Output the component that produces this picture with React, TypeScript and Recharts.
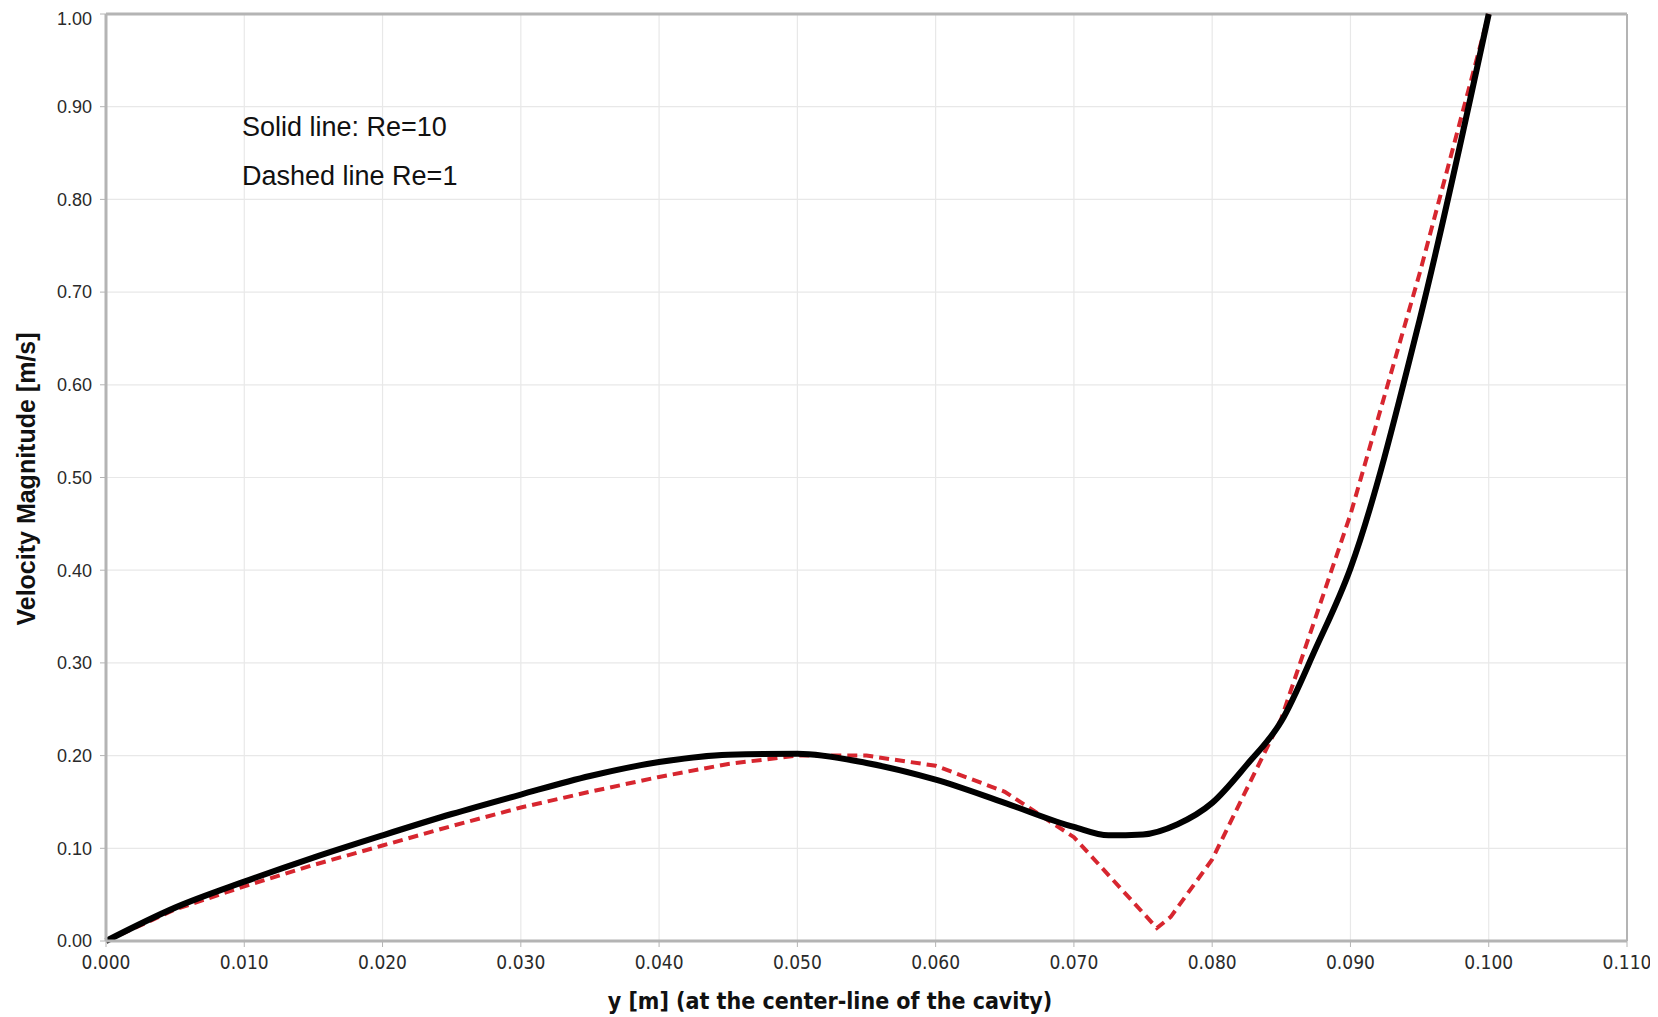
import { CartesianGrid, Line, LineChart, ReferenceLine, XAxis, YAxis } from 'recharts';

// y position along the cavity centre-line [m]
const solidY = [0, 0.005, 0.01, 0.015, 0.02, 0.025, 0.03, 0.035, 0.04, 0.045, 0.05, 0.055, 0.06, 0.065, 0.07, 0.0725, 0.075, 0.0775, 0.08, 0.0825, 0.085, 0.0875, 0.09, 0.095, 0.1];
// velocity magnitude, Re=10
const solidV = [0, 0.036, 0.064, 0.09, 0.114, 0.137, 0.158, 0.178, 0.193, 0.201, 0.202, 0.192, 0.174, 0.149, 0.123, 0.114, 0.115, 0.126, 0.149, 0.19, 0.237, 0.316, 0.402, 0.67, 1.0];

const dashedY = [0, 0.005, 0.01, 0.015, 0.02, 0.025, 0.03, 0.035, 0.04, 0.045, 0.05, 0.055, 0.06, 0.065, 0.07, 0.076, 0.077, 0.08, 0.085, 0.09, 0.095, 0.1];
// velocity magnitude, Re=1
const dashedV = [0, 0.034, 0.059, 0.082, 0.103, 0.124, 0.144, 0.161, 0.177, 0.191, 0.2, 0.2, 0.189, 0.161, 0.112, 0.014, 0.026, 0.088, 0.24, 0.46, 0.72, 1.0];

const xTicks = [0, 0.01, 0.02, 0.03, 0.04, 0.05, 0.06, 0.07, 0.08, 0.09, 0.1, 0.11];
const yTicks = [0, 0.1, 0.2, 0.3, 0.4, 0.5, 0.6, 0.7, 0.8, 0.9, 1.0];

const solid = solidY.map((x, i) => ({ x, v: solidV[i] }));
const dashed = dashedY.map((x, i) => ({ x, v: dashedV[i] }));

const axisGray = '#b4b4b4';
const sans = '"Liberation Sans", Arial, sans-serif';
const narrow = '"DejaVu Sans Condensed", "Liberation Sans Narrow", "Liberation Sans", sans-serif';

export default function App() {
  return (
    <div style={{ position: 'relative', width: 1650, height: 1009, fontFamily: sans }}>
      <LineChart width={1650} height={1009} margin={{ top: 6, right: 31, left: 0, bottom: 0 }}>
        <CartesianGrid stroke="#e8e8e8" strokeWidth={1.2} />
        <XAxis
          dataKey="x"
          type="number"
          domain={[0, 0.11]}
          ticks={xTicks}
          tickFormatter={(t: number) => t.toFixed(3)}
          height={76}
          tickSize={6}
          tickMargin={9}
          stroke={axisGray}
          axisLine={{ stroke: axisGray, strokeWidth: 3 }}
          tick={{ fontSize: 19, fill: '#2a2a2a', fontFamily: narrow }}
          allowDuplicatedCategory={false}
        />
        <YAxis
          type="number"
          domain={[0, 1]}
          ticks={yTicks}
          tickFormatter={(t: number) => t.toFixed(2)}
          width={98}
          tickSize={6}
          tickMargin={8}
          stroke={axisGray}
          axisLine={{ stroke: axisGray, strokeWidth: 3 }}
          tick={{ fontSize: 18, fill: '#2a2a2a', fontFamily: sans }}
        />
        <ReferenceLine x={0.11} stroke={axisGray} strokeWidth={2} />
        <ReferenceLine y={1} stroke={axisGray} strokeWidth={3} />
        <Line data={dashed} dataKey="v" type="linear" stroke="#d7262f" strokeWidth={4} strokeDasharray="10 6" dot={false} isAnimationActive={false} />
        <Line data={solid} dataKey="v" type="monotone" stroke="#000000" strokeWidth={6} dot={false} isAnimationActive={false} />
      </LineChart>

      <div style={{ position: 'absolute', left: 234, top: 104, width: 200, textAlign: 'center', fontSize: 27, color: '#111', whiteSpace: 'nowrap' }}>
        Solid line: Re=10
      </div>
      <div style={{ position: 'absolute', left: 234, top: 153, width: 200, textAlign: 'center', fontSize: 27, color: '#111', whiteSpace: 'nowrap' }}>
        Dashed line Re=1
      </div>

      <div style={{ position: 'absolute', left: 572, top: 980, width: 500, textAlign: 'center', fontSize: 23, fontWeight: 'bold', color: '#111', fontFamily: narrow, whiteSpace: 'nowrap' }}>
        y [m] (at the center-line of the cavity)
      </div>
      <div
        style={{
          position: 'absolute',
          left: 18 - 200,
          top: 456,
          width: 400,
          height: 30,
          lineHeight: '30px',
          textAlign: 'center',
          fontSize: 25,
          fontWeight: 'bold',
          color: '#111',
          whiteSpace: 'nowrap',
          transform: 'rotate(-90deg)',
          transformOrigin: '50% 50%',
        }}
      >
        Velocity Magnitude [m/s]
      </div>
    </div>
  );
}
